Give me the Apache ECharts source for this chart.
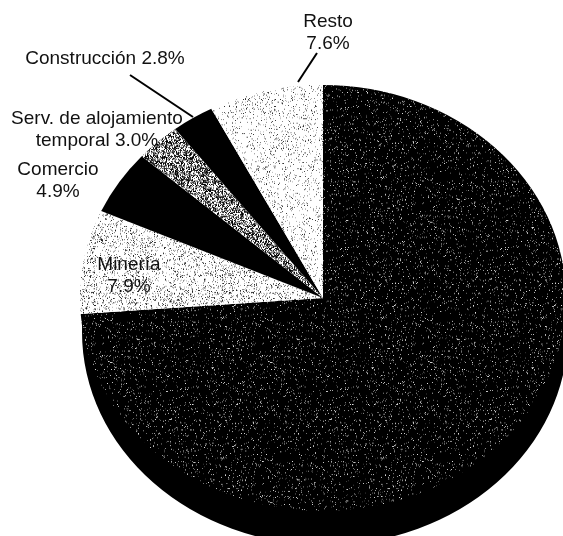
<!DOCTYPE html>
<html>
<head>
<meta charset="utf-8">
<style>
html, body { margin: 0; padding: 0; background: #fff; }
#chart { width: 563px; height: 536px; }
</style>
<script src="https://cdn.jsdelivr.net/npm/echarts@6/dist/echarts.min.js"></script>
</head>
<body>
<div id="chart"></div>
<script>
// clockwise from 12 o'clock; the big slice's own label cannot be read in the scan
var sliceNames = ['(ilegible)', 'Minería', 'Comercio', 'Serv. de alojamiento temporal', 'Construcción', 'Resto'];
var sliceValues = [73.8, 7.9, 4.9, 3.0, 2.8, 7.6];
var sliceTextures = ['dark', 'lightDense', 'black', 'grey', 'black', 'light'];

var CX = 323, CY = 298, RX = 243, RY = 213, DEPTH = 34, DEPTH_X = 2;
var WALL_EXTRA = 0.155; // radians past the big slice, closes the step at the left edge

// scanned-halftone look: speckle tile from a fixed integer hash
function speckle(bg, shades, density, seed) {
    var size = 160;
    var c = document.createElement('canvas');
    c.width = c.height = size;
    var ctx = c.getContext('2d');
    ctx.fillStyle = bg;
    ctx.fillRect(0, 0, size, size);
    for (var y = 0; y < size; y++) {
        for (var x = 0; x < size; x++) {
            var h = (x * 374761393 + y * 668265263 + seed) | 0;
            h = Math.imul(h ^ (h >>> 13), 1274126177);
            h = (h ^ (h >>> 16)) >>> 0;
            if (h % 1000 < density * 1000) {
                ctx.fillStyle = shades[(h >>> 10) % shades.length];
                ctx.fillRect(x, y, 1, 1);
            }
        }
    }
    return { image: c, repeat: 'repeat' };
}

var textures = {
    dark: speckle('#000', ['#444', '#777', '#aaa', '#ddd'], 0.07, 11),
    light: speckle('#fff', ['#333', '#777', '#aaa'], 0.1, 23),
    lightDense: speckle('#fff', ['#222', '#666', '#aaa'], 0.17, 37),
    grey: speckle('#fff', ['#000', '#222', '#555'], 0.55, 51),
    black: '#000'
};

var total = sliceValues.reduce(function (a, b) { return a + b; }, 0);
var starts = [];
sliceValues.reduce(function (sum, v, i) {
    starts[i] = sum;
    return sum + v;
}, 0);

function toAngle(v) {
    return -Math.PI / 2 + v / total * Math.PI * 2;
}

function sector(idx, dx, dy, fill, extra) {
    return {
        type: 'sector',
        x: CX + dx,
        y: CY + dy,
        scaleY: RY / RX,
        shape: {
            cx: 0, cy: 0, r0: 0, r: RX,
            startAngle: toAngle(starts[idx]),
            endAngle: toAngle(starts[idx] + sliceValues[idx]) + extra,
            clockwise: true
        },
        style: { fill: fill }
    };
}

function textAt(text, x, y) {
    return {
        type: 'text',
        x: x,
        y: y,
        z: 10,
        style: {
            text: text,
            fill: '#111',
            font: '19px "Liberation Sans", Arial, sans-serif',
            textAlign: 'center',
            textVerticalAlign: 'middle'
        }
    };
}

function leader(x1, y1, x2, y2) {
    return {
        type: 'line',
        z: 10,
        shape: { x1: x1, y1: y1, x2: x2, y2: y2 },
        style: { stroke: '#000', lineWidth: 2 }
    };
}

var chart = echarts.init(document.getElementById('chart'), null, { renderer: 'canvas' });
chart.setOption({
    animation: false,
    backgroundColor: '#fff',
    series: [
        {
            type: 'custom',
            coordinateSystem: 'none',
            silent: true,
            data: sliceValues,
            renderItem: function (params) {
                var i = params.dataIndex;
                var children = [];
                // side wall only shows under the big slice
                if (i === 0) {
                    children.push(sector(i, DEPTH_X, DEPTH, '#000', WALL_EXTRA));
                }
                children.push(sector(i, 0, 0, textures[sliceTextures[i]], 0));
                return { type: 'group', children: children };
            }
        }
    ],
    graphic: [
        textAt('Resto', 328, 22),
        textAt('7.6%', 328, 44),
        textAt('Construcción 2.8%', 105, 59),
        textAt('Serv. de alojamiento', 97, 119),
        textAt('temporal 3.0%', 97, 141),
        textAt('Comercio', 58, 170),
        textAt('4.9%', 58, 192),
        textAt('Minería', 129, 265),
        textAt('7.9%', 129, 287),
        leader(317, 53, 298, 82),
        leader(130, 75, 193, 117)
    ]
});
</script>
</body>
</html>
